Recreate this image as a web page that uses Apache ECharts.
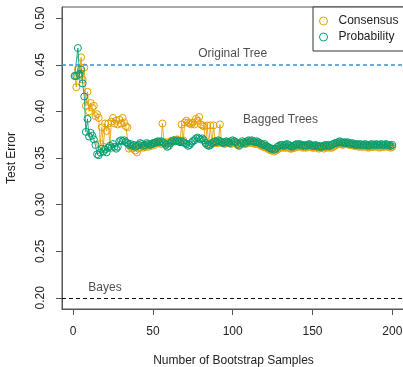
<!DOCTYPE html>
<html>
<head>
<meta charset="utf-8">
<script src="https://cdn.jsdelivr.net/npm/echarts@6/dist/echarts.min.js"></script>
<style>
  html, body { margin: 0; padding: 0; background: #fff; }
  #chart { width: 403px; height: 367px; }
</style>
</head>
<body>
<div id="chart"></div>
<script>
// test error for 1..200 bootstrap samples
const consensus = [
  0.438, 0.426, 0.445, 0.438, 0.458, 0.434, 0.447, 0.406, 0.421, 0.400,
  0.409, 0.404, 0.406, 0.395, 0.397, 0.393, 0.365, 0.383, 0.362, 0.387,
  0.379, 0.387, 0.363, 0.389, 0.393, 0.387, 0.390, 0.386, 0.391, 0.387,
  0.393, 0.388, 0.384, 0.383, 0.360, 0.362, 0.360, 0.361, 0.358, 0.356,
  0.360, 0.361, 0.363, 0.361, 0.362, 0.363, 0.362, 0.364, 0.363, 0.365,
  0.364, 0.366, 0.367, 0.366, 0.365, 0.387, 0.366, 0.367, 0.365, 0.366,
  0.368, 0.367, 0.369, 0.368, 0.370, 0.368, 0.367, 0.386, 0.369, 0.388,
  0.390, 0.388, 0.387, 0.386, 0.388, 0.386, 0.392, 0.390, 0.394, 0.386,
  0.385, 0.384, 0.366, 0.385, 0.364, 0.385, 0.365, 0.385, 0.366, 0.368,
  0.366, 0.386, 0.367, 0.366, 0.365, 0.366, 0.367, 0.366, 0.365, 0.366,
  0.367, 0.366, 0.364, 0.364, 0.365, 0.366, 0.365, 0.365, 0.366, 0.367,
  0.366, 0.367, 0.366, 0.365, 0.366, 0.365, 0.364, 0.363, 0.362, 0.362,
  0.361, 0.360, 0.359, 0.358, 0.358, 0.357, 0.358, 0.359, 0.360, 0.361,
  0.362, 0.361, 0.361, 0.362, 0.361, 0.360, 0.360, 0.361, 0.361, 0.362,
  0.362, 0.363, 0.362, 0.361, 0.362, 0.361, 0.362, 0.363, 0.362, 0.361,
  0.361, 0.362, 0.361, 0.360, 0.361, 0.361, 0.360, 0.362, 0.361, 0.362,
  0.361, 0.361, 0.362, 0.363, 0.364, 0.365, 0.366, 0.365, 0.364, 0.365,
  0.365, 0.365, 0.364, 0.364, 0.364, 0.363, 0.363, 0.363, 0.362, 0.363,
  0.362, 0.362, 0.363, 0.362, 0.361, 0.362, 0.362, 0.362, 0.362, 0.363,
  0.362, 0.361, 0.362, 0.362, 0.362, 0.363, 0.362, 0.362, 0.361, 0.362
];
const probability = [
  0.438, 0.438, 0.468, 0.440, 0.445, 0.430, 0.416, 0.378, 0.392, 0.373,
  0.377, 0.374, 0.370, 0.364, 0.354, 0.353, 0.356, 0.360, 0.357, 0.359,
  0.356, 0.361, 0.363, 0.361, 0.365, 0.362, 0.360, 0.362, 0.368, 0.369,
  0.368, 0.369, 0.367, 0.366, 0.364, 0.365, 0.363, 0.364, 0.362, 0.363,
  0.364, 0.366, 0.365, 0.363, 0.364, 0.366, 0.365, 0.364, 0.365, 0.366,
  0.366, 0.367, 0.368, 0.367, 0.368, 0.367, 0.366, 0.364, 0.362, 0.363,
  0.366, 0.368, 0.369, 0.368, 0.369, 0.368, 0.367, 0.368, 0.367, 0.366,
  0.365, 0.363, 0.364, 0.366, 0.368, 0.369, 0.371, 0.372, 0.371, 0.370,
  0.371, 0.369, 0.366, 0.364, 0.363, 0.364, 0.366, 0.367, 0.368, 0.367,
  0.369, 0.368, 0.367, 0.366, 0.367, 0.368, 0.367, 0.366, 0.368, 0.369,
  0.368, 0.367, 0.365, 0.363, 0.366, 0.368, 0.367, 0.366, 0.368, 0.369,
  0.368, 0.369, 0.368, 0.367, 0.368, 0.367, 0.366, 0.365, 0.364, 0.365,
  0.363, 0.362, 0.361, 0.360, 0.360, 0.359, 0.360, 0.362, 0.363, 0.364,
  0.364, 0.363, 0.364, 0.365, 0.364, 0.363, 0.362, 0.363, 0.364, 0.365,
  0.364, 0.365, 0.364, 0.363, 0.364, 0.363, 0.364, 0.365, 0.364, 0.363,
  0.363, 0.364, 0.363, 0.362, 0.363, 0.362, 0.363, 0.364, 0.363, 0.364,
  0.363, 0.364, 0.365, 0.366, 0.366, 0.367, 0.368, 0.367, 0.366, 0.367,
  0.366, 0.367, 0.366, 0.365, 0.366, 0.365, 0.364, 0.365, 0.364, 0.365,
  0.364, 0.364, 0.365, 0.364, 0.363, 0.364, 0.365, 0.364, 0.364, 0.365,
  0.364, 0.364, 0.365, 0.364, 0.364, 0.365, 0.364, 0.364, 0.363, 0.364
];
const samples = consensus.map((_, i) => i + 1);

const xTicks = [0, 50, 100, 150, 200];
const yTicks = [0.20, 0.25, 0.30, 0.35, 0.40, 0.45, 0.50];

const originalTree = 0.445;
const bayesRate = 0.20;

// annotations: [x, y, text]
const notes = [
  [100, 0.4615, 'Original Tree'],
  [130, 0.391, 'Bagged Trees'],
  [20, 0.2112, 'Bayes']
];

const orange = '#E69F00';
const green = '#009E73';
const font = 'Liberation Sans, Arial, sans-serif';

function toPairs(ys) {
  return ys.map((y, i) => [samples[i], y]);
}

const chart = echarts.init(document.getElementById('chart'), null, { renderer: 'canvas' });

const hollow = c => ({ color: 'rgba(0,0,0,0)', borderColor: c, borderWidth: 1 });

const option = {
  animation: false,
  backgroundColor: '#fff',
  textStyle: { fontFamily: font },
  grid: {
    left: 62, top: 7, width: 343, height: 302,
    show: true, borderColor: '#555', borderWidth: 1,
    containLabel: false,
    outerBoundsMode: 'none'
  },
  legend: {
    orient: 'vertical',
    left: 313, top: 7,
    padding: [8, 12, 8, 6],
    itemGap: 4,
    itemWidth: 8, itemHeight: 8,
    icon: 'circle',
    backgroundColor: '#fff',
    borderColor: '#333', borderWidth: 1, borderRadius: 0,
    textStyle: { fontSize: 12, color: '#222', fontFamily: font, padding: [0, 0, 0, 6] },
    data: [
      { name: 'Consensus', itemStyle: hollow(orange) },
      { name: 'Probability', itemStyle: hollow(green) }
    ]
  },
  xAxis: {
    type: 'value',
    min: -6.96, max: 207.96,
    name: 'Number of Bootstrap Samples',
    nameLocation: 'middle', nameGap: 46,
    nameTextStyle: { fontSize: 12, color: '#222' },
    splitLine: { show: false },
    axisLine: { show: true, onZero: false, lineStyle: { color: '#555' } },
    axisTick: { show: true, customValues: xTicks, length: 6, lineStyle: { color: '#555' } },
    axisLabel: { customValues: xTicks, margin: 17, fontSize: 12, color: '#222' }
  },
  yAxis: {
    type: 'value',
    min: 0.188, max: 0.512,
    name: 'Test Error',
    nameLocation: 'middle', nameGap: 44, nameRotate: 90,
    nameTextStyle: { fontSize: 12, color: '#222' },
    splitLine: { show: false },
    axisLine: { show: true, onZero: false, lineStyle: { color: '#555' } },
    axisTick: { show: true, customValues: yTicks, length: 6, lineStyle: { color: '#555' } },
    axisLabel: {
      customValues: yTicks, rotate: 90, margin: 15, fontSize: 12, color: '#222',
      formatter: v => v.toFixed(2)
    }
  },
  series: [
    {
      name: 'Consensus',
      type: 'line',
      data: toPairs(consensus),
      symbol: 'circle', symbolSize: 7,
      itemStyle: hollow(orange),
      lineStyle: { color: orange, width: 1, opacity: 0.85 },
      z: 3,
      markLine: {
        silent: true, symbol: 'none', label: { show: false },
        data: [
          { yAxis: originalTree, lineStyle: { color: '#3d8fd1', type: [4, 3], width: 1.5 } },
          { yAxis: bayesRate, lineStyle: { color: '#111', type: [4, 3], width: 1.2 } }
        ]
      }
    },
    {
      name: 'Probability',
      type: 'line',
      data: toPairs(probability),
      symbol: 'circle', symbolSize: 7,
      itemStyle: hollow(green),
      lineStyle: { color: green, width: 1, opacity: 0.85 },
      z: 4
    },
    {
      type: 'scatter',
      data: notes.map(n => ({ value: [n[0], n[1]], label: { formatter: n[2] } })),
      symbolSize: 0,
      silent: true,
      label: { show: true, position: 'inside', fontSize: 12, color: '#222', fontFamily: font },
      z: 5
    }
  ]
};

chart.setOption(option);
</script>
</body>
</html>
